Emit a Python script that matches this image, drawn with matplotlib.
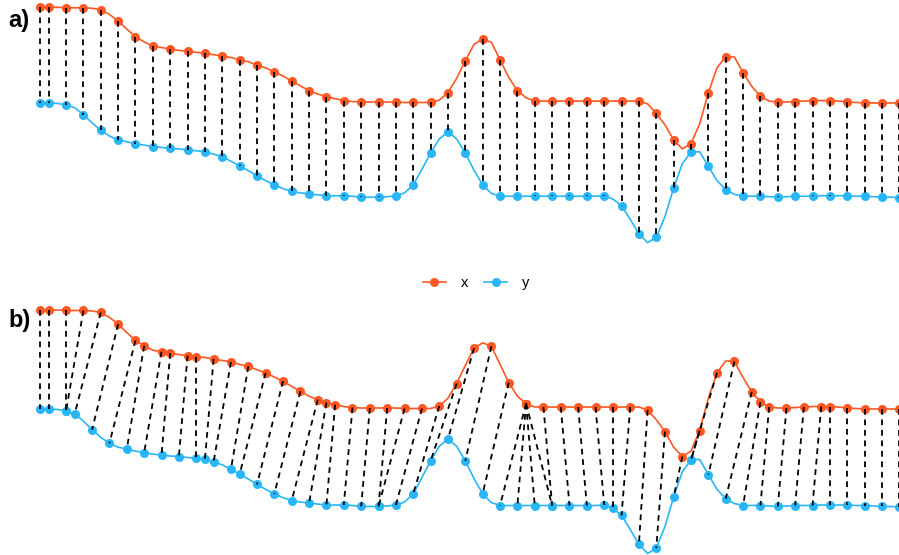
import numpy as np
import matplotlib
matplotlib.use("Agg")
import matplotlib.pyplot as plt
from matplotlib.lines import Line2D

# Two series sampled on the same 100-step time grid
x_vals = [2.00, 2.00, 2.00, 1.99, 1.99, 1.99, 1.98, 1.95, 1.85, 1.71,
          1.54, 1.38, 1.27, 1.18, 1.15, 1.12, 1.09, 1.07, 1.05, 1.03,
          1.00, 0.97, 0.94, 0.89, 0.85, 0.78, 0.72, 0.63, 0.55, 0.44,
          0.34, 0.24, 0.17, 0.11, 0.07, 0.03, 0.01, 0.00, 0.00, 0.00,
          0.00, 0.00, -0.01, -0.01, -0.01, -0.01, 0.04, 0.20, 0.50, 0.87,
          1.22, 1.33, 1.26, 0.89, 0.52, 0.24, 0.09, 0.02, 0.02, 0.02,
          0.02, 0.02, 0.02, 0.02, 0.02, 0.02, 0.02, 0.02, 0.02, 0.02,
          -0.04, -0.24, -0.48, -0.80, -0.99, -0.88, -0.46, 0.20, 0.72, 0.96,
          0.95, 0.62, 0.33, 0.12, 0.02, 0.00, 0.00, 0.01, 0.02, 0.03,
          0.03, 0.03, 0.02, 0.00, -0.01, -0.02, -0.02, -0.02, -0.02, -0.02]

y_vals = [1.98, 1.98, 1.97, 1.94, 1.88, 1.73, 1.56, 1.40, 1.28, 1.20,
          1.16, 1.12, 1.09, 1.06, 1.04, 1.02, 1.01, 0.99, 0.97, 0.95,
          0.90, 0.84, 0.75, 0.65, 0.55, 0.44, 0.34, 0.25, 0.17, 0.11,
          0.08, 0.06, 0.04, 0.02, 0.02, 0.02, 0.01, -0.01, -0.01, -0.01,
          0.00, 0.02, 0.08, 0.25, 0.58, 0.92, 1.22, 1.37, 1.22, 0.92,
          0.56, 0.25, 0.07, 0.01, 0.01, 0.01, 0.01, 0.01, 0.01, 0.01,
          0.01, 0.01, 0.01, 0.01, 0.01, 0.02, -0.05, -0.19, -0.48, -0.78,
          -0.97, -0.86, -0.42, 0.18, 0.70, 0.94, 0.95, 0.64, 0.34, 0.15,
          0.05, 0.01, 0.01, 0.01, 0.00, -0.01, 0.00, 0.01, 0.01, 0.01,
          0.02, 0.02, 0.02, 0.02, 0.01, 0.01, 0.00, -0.01, -0.01, -0.02]

# a) one-to-one matching, every other sample
match_a = [0, 1, 3, 5, 7, 9, 11, 13, 15, 17, 19, 21, 23, 25, 27, 29, 31,
           33, 35, 37, 39, 41, 43, 45, 47, 49, 51, 53, 55, 57, 59, 61, 63,
           65, 67, 69, 71, 73, 75, 77, 79, 81, 83, 85, 87, 89, 91, 93, 95,
           97, 99]

# b) warping path (x index, y index), every other step
path_b = [(0, 0), (1, 1), (3, 3), (5, 3), (7, 4), (9, 6), (11, 8), (12, 10),
          (14, 12), (15, 14), (17, 16), (18, 18), (20, 19), (22, 20),
          (24, 22), (26, 23), (28, 25), (30, 27), (32, 29), (33, 31),
          (34, 33), (36, 35), (38, 37), (40, 39), (42, 39), (44, 41),
          (46, 43), (48, 45), (50, 47), (52, 49), (54, 51), (56, 53),
          (56, 55), (56, 57), (56, 59), (58, 59), (60, 61), (62, 63),
          (64, 65), (66, 66), (68, 67), (70, 69), (72, 71), (74, 73),
          (76, 75), (78, 75), (80, 77), (82, 79), (83, 81), (84, 83),
          (86, 85), (88, 87), (90, 89), (91, 91), (93, 93), (95, 95),
          (97, 97), (99, 99)]

X_COLOR = "#FF5722"
Y_COLOR = "#29B6F6"
OFFSET = 2.0  # vertical gap between the two series

t = np.arange(len(x_vals))
xs = np.array(x_vals)
ys = np.array(y_vals) - OFFSET

fig = plt.figure(figsize=(8.99, 5.55), dpi=100)
H = 555.0


def draw_panel(ax, pairs):
    ax.plot(t, xs, color=X_COLOR, lw=1.2, zorder=1, clip_on=False)
    ax.plot(t, ys, color=Y_COLOR, lw=1.2, zorder=1, clip_on=False)
    ii = np.array([p[0] for p in pairs])
    jj = np.array([p[1] for p in pairs])
    ax.plot(ii, xs[ii], "o", color=X_COLOR, ms=6.5, mew=0, zorder=2, clip_on=False)
    ax.plot(jj, ys[jj], "o", color=Y_COLOR, ms=6.5, mew=0, zorder=2, clip_on=False)
    for i, j in pairs:
        ax.plot([i, j], [xs[i], ys[j]], color="black", lw=1.3,
                linestyle=(0, (3.2, 2.6)), zorder=3, clip_on=False)
    ax.set_xlim(-40 / 8.68, 859 / 8.68)
    ax.axis("off")


ax_a = fig.add_axes([0, (H - 260) / H, 1, 260 / H])
draw_panel(ax_a, [(k, k) for k in match_a])
ax_a.set_ylim((102 - 260) / 47.35, 102 / 47.35)

ax_b = fig.add_axes([0, 0, 1, 260 / H])
draw_panel(ax_b, path_b)
ax_b.set_ylim((408 - 555) / 49.0, (408 - 295) / 49.0)

fig.text(8 / 899, 1 - 21 / H, "a)", fontsize=17, fontweight="bold",
         family="Liberation Sans", va="center", ha="left")
fig.text(8 / 899, 1 - 321 / H, "b)", fontsize=17, fontweight="bold",
         family="Liberation Sans", va="center", ha="left")

handles = [Line2D([], [], color=X_COLOR, marker="o", ms=6.5, mew=0, lw=1.2),
           Line2D([], [], color=Y_COLOR, marker="o", ms=6.5, mew=0, lw=1.2)]
fig.legend(handles, ["x", "y"], loc="center", bbox_to_anchor=(476 / 899, 1 - 283 / H),
           ncol=2, frameon=False, handlelength=1.6,
           handletextpad=1.0, columnspacing=1.1, numpoints=1,
           prop={"family": "Liberation Sans", "size": 10.5})

fig.savefig("out.png", dpi=100)
